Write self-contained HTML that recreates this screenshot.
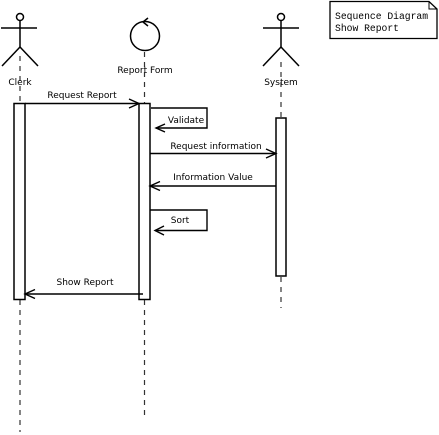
<!DOCTYPE html>
<html><head><meta charset="utf-8"><style>html,body{margin:0;padding:0;background:#fff}svg{display:block}</style></head>
<body>
<svg width="439" height="435" viewBox="0 0 439 435" xmlns="http://www.w3.org/2000/svg" font-family="'DejaVu Sans','Liberation Sans',sans-serif" font-size="9" fill="#000">
<g stroke="#000" stroke-width="1.5" fill="none">
<!-- Clerk -->
<circle cx="20" cy="17" r="3.5"/>
<line x1="20" y1="20.5" x2="20" y2="47"/>
<line x1="1" y1="28" x2="37" y2="28"/>
<line x1="20" y1="47" x2="2" y2="66"/>
<line x1="20" y1="47" x2="38" y2="66"/>
<!-- Report Form -->
<circle cx="145" cy="36" r="14.5"/>
<polyline points="148,18 143,22 148,26"/>
<!-- System -->
<circle cx="281" cy="17" r="3.5"/>
<line x1="281" y1="20.5" x2="281" y2="47"/>
<line x1="263" y1="28" x2="299" y2="28"/>
<line x1="281" y1="47" x2="263" y2="66"/>
<line x1="281" y1="47" x2="299" y2="66"/>
</g>
<!-- lifelines -->
<g stroke="#333" stroke-width="1.2" stroke-dasharray="5,5">
<line x1="20" y1="56" x2="20" y2="103"/>
<line x1="20" y1="300" x2="20" y2="432"/>
<line x1="144.5" y1="52" x2="144.5" y2="103"/>
<line x1="144.5" y1="300" x2="144.5" y2="418"/>
<line x1="281" y1="62" x2="281" y2="118"/>
<line x1="281" y1="277" x2="281" y2="308"/>
</g>
<g stroke="#000" stroke-width="1.5" fill="#fff">
<rect x="14" y="103.5" width="11" height="196"/>
<rect x="139" y="103.5" width="11" height="196"/>
<rect x="276" y="118" width="10" height="158"/>
</g>
<g stroke="#000" stroke-width="1.4" fill="none">
<line x1="25" y1="103.5" x2="139" y2="103.5"/>
<polyline points="129,99 139,103.5 129,108"/>
<polyline points="151,108 207,108 207,128 156,128"/>
<polyline points="165,124 156,128 165,132"/>
<line x1="150" y1="153.5" x2="276" y2="153.5"/>
<polyline points="266,149 276,153.5 266,158"/>
<line x1="276" y1="186" x2="150" y2="186"/>
<polyline points="160,181.5 150,186 160,190.5"/>
<polyline points="150,210 207,210 207,230.5 155,230.5"/>
<polyline points="164,226 155,230.5 164,235"/>
<line x1="143" y1="294" x2="25" y2="294"/>
<polyline points="35,289.5 25,294 35,298.5"/>
</g>
<g text-anchor="middle">
<text x="20" y="85">Clerk</text>
<text x="145" y="73">Report Form</text>
<text x="281" y="85">System</text>
<text x="82" y="98">Request Report</text>
<text x="186" y="123">Validate</text>
<text x="216" y="149">Request information</text>
<text x="213" y="180">Information Value</text>
<text x="180" y="223">Sort</text>
<text x="85" y="285">Show Report</text>
</g>
<!-- note -->
<path d="M330,1.5 H429 L437,9 V38.5 H330 Z" fill="#fff" stroke="#000" stroke-width="1.3"/>
<polyline points="429,1.5 429,9 437,9" fill="none" stroke="#000" stroke-width="1"/>
<g font-family="'Liberation Mono',monospace" font-size="9.7">
<text x="335" y="19">Sequence Diagram</text>
<text x="335" y="31">Show Report</text>
</g>
</svg>
</body></html>
